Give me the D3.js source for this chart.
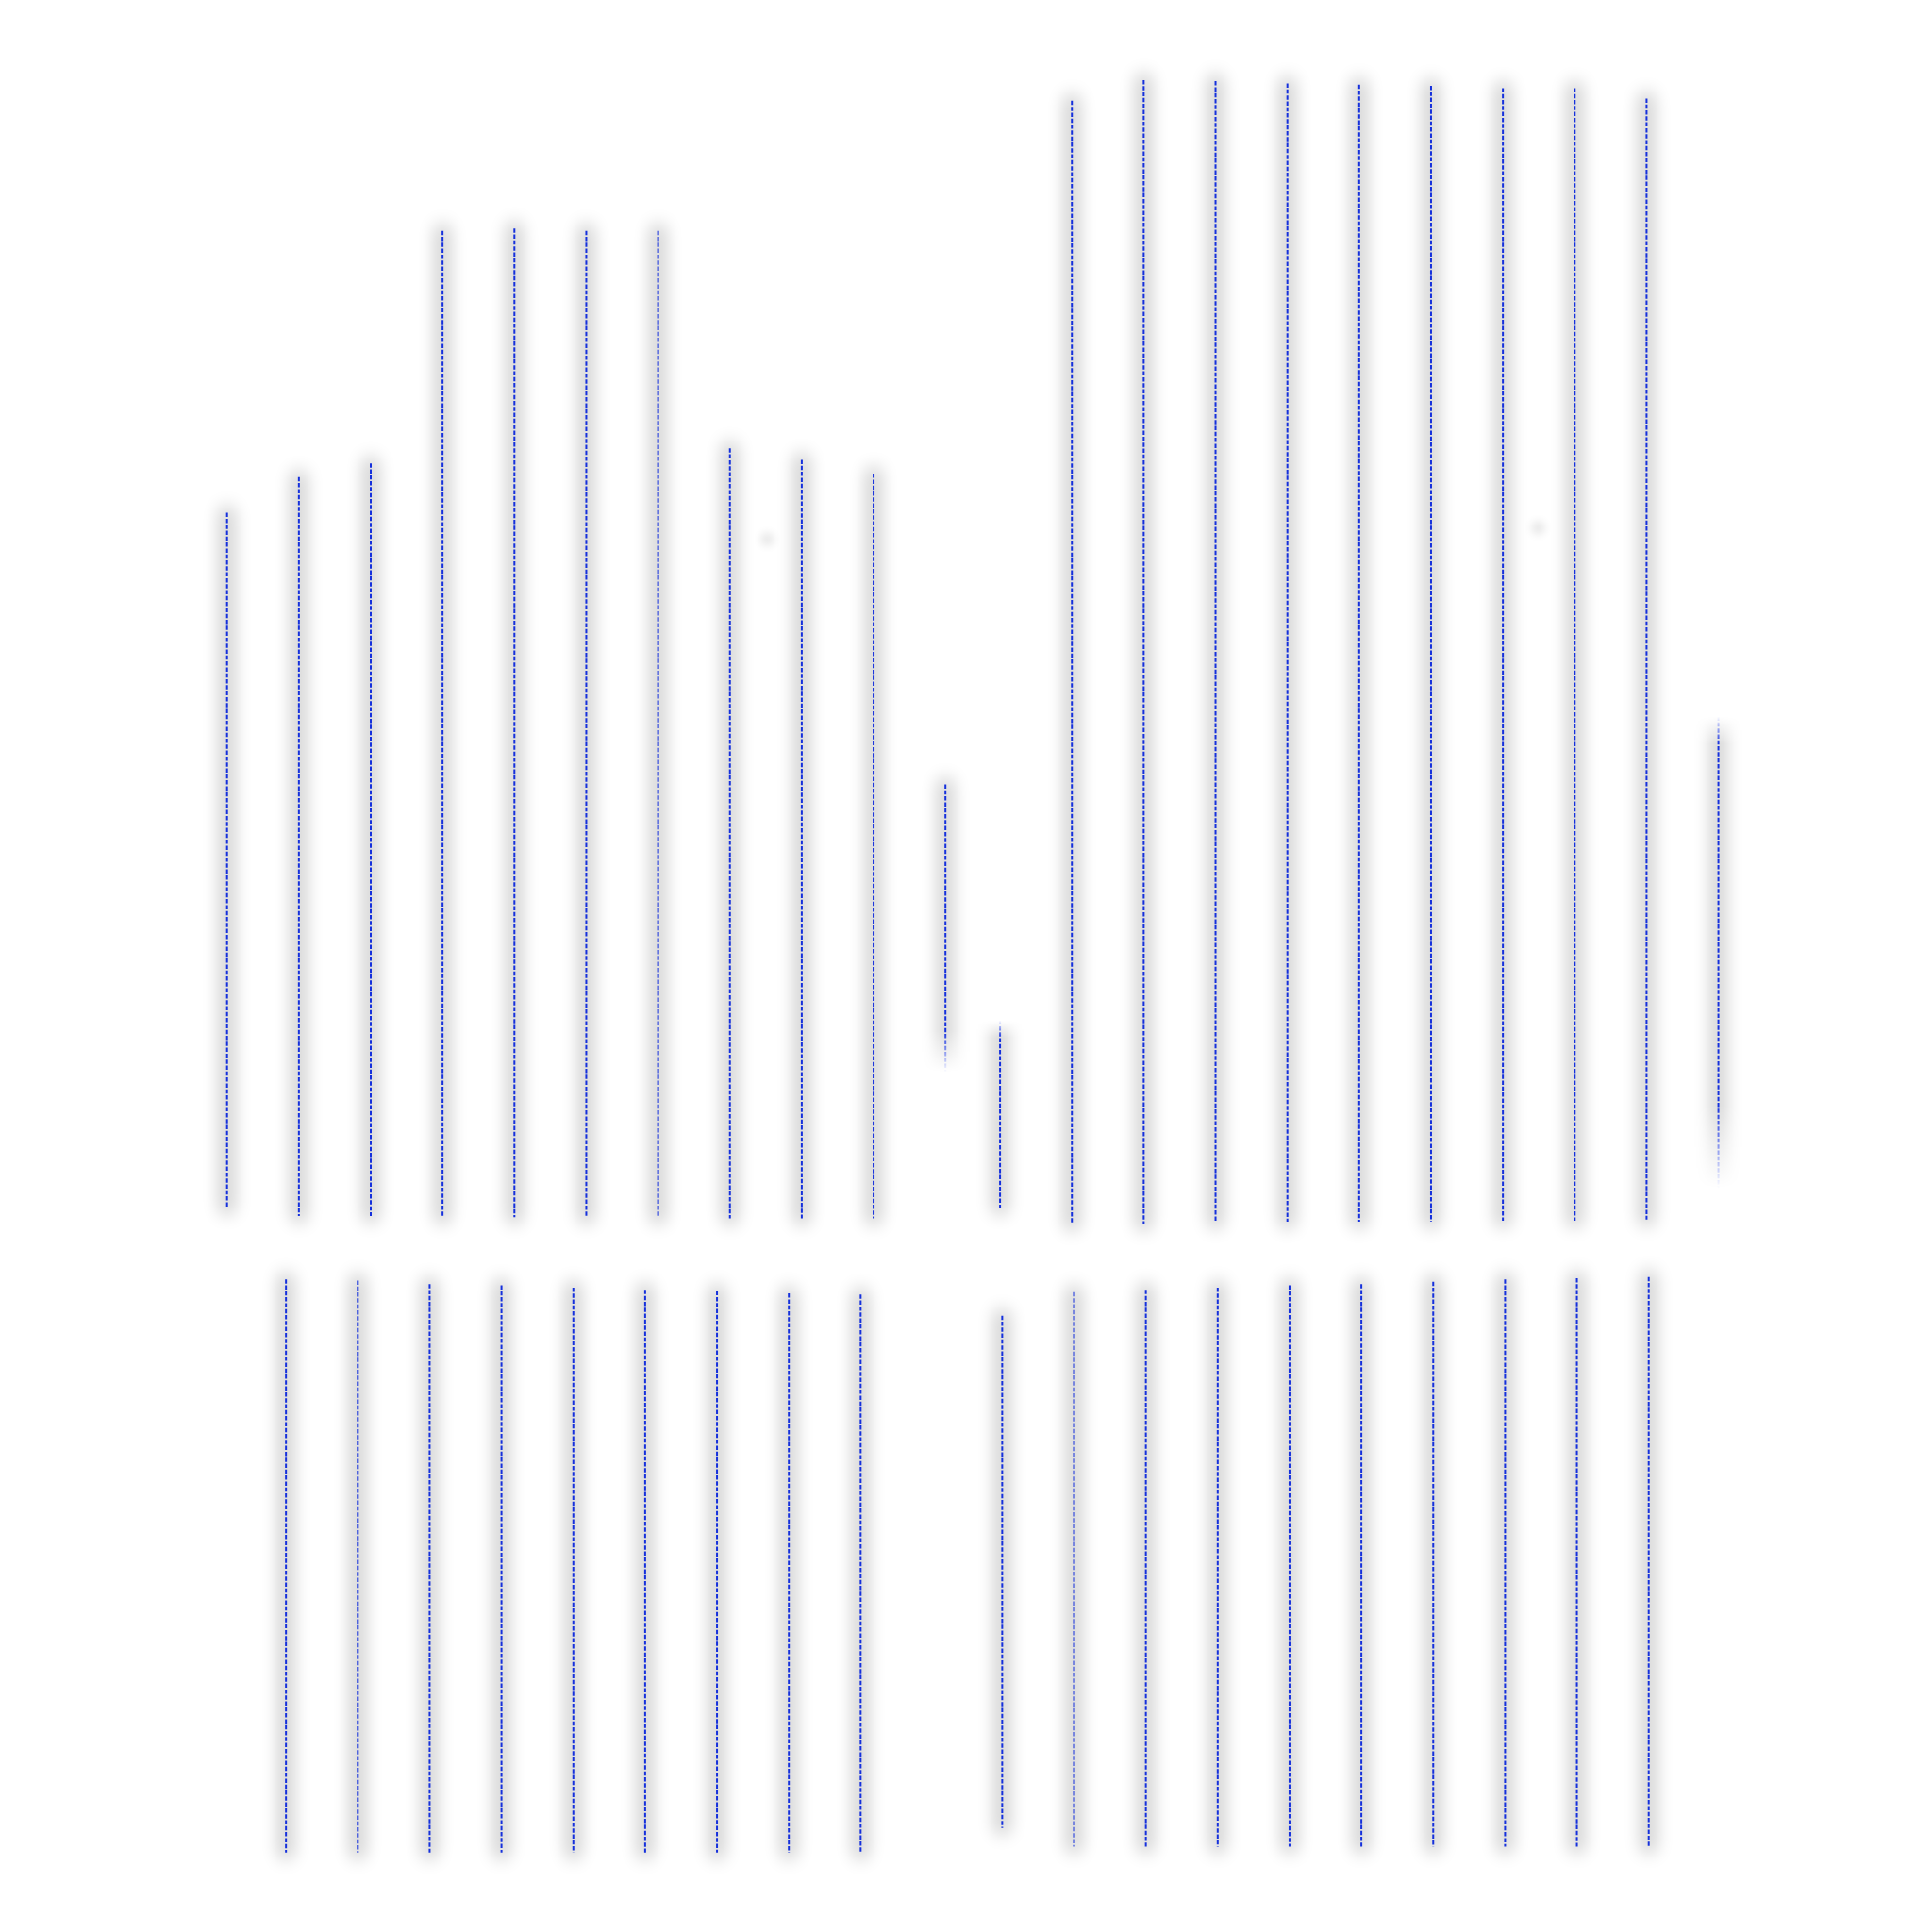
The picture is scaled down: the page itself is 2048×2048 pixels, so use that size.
<!DOCTYPE html>
<html>
<head>
<meta charset="utf-8">
<script src="https://cdn.jsdelivr.net/npm/d3@7"></script>
<style>
  html, body { margin: 0; padding: 0; background: #fff; }
</style>
</head>
<body>
<div id="chart"></div>
<script>
const W = 2048, H = 2048;

// upper row: position (in column steps), top and bottom values, faded ends
const topPos = [0, 1, 2, 3, 4, 5, 6, 7, 8, 9, 10,
    10.76, 11.76, 12.76, 13.76, 14.76, 15.76, 16.76, 17.76, 18.76, 19.76, 20.76];
const topHigh = [62.0, 65.1, 66.3, 86.5, 86.7, 86.5, 86.5, 67.6, 66.6, 65.4, 38.4,
    17.9, 97.8, 99.6, 99.5, 99.3, 99.2, 99.1, 98.9, 98.9, 98.0, 44.3];
const topLow = [1.6, 0.9, 0.9, 0.8, 0.8, 0.8, 0.8, 0.7, 0.7, 0.7, 13.4,
    1.6, 0.2, 0.2, 0.4, 0.4, 0.4, 0.4, 0.5, 0.5, 0.6, 3.3];
const topFadeHigh = [0, 0, 0, 0, 0, 0, 0, 0, 0, 0, 0,
    1.5, 0, 0, 0, 0, 0, 0, 0, 0, 0, 2.4];
const topFadeLow = [0, 0, 0, 0, 0, 0, 0, 0, 0, 0, 3.6,
    0, 0, 0, 0, 0, 0, 0, 0, 0, 0, 7.2];

// lower row
const bottomPos = [0.82, 1.82, 2.82, 3.82, 4.82, 5.82, 6.82, 7.82, 8.82,
    10.79, 11.79, 12.79, 13.79, 14.79, 15.79, 16.79, 17.79, 18.79, 19.79];
const bottomHigh = [49.5, 49.4, 49.1, 49.0, 48.8, 48.6, 48.5, 48.3, 48.2,
    46.4, 48.4, 48.6, 48.8, 49.0, 49.1, 49.3, 49.5, 49.6, 49.7];
const bottomLow = [0.5, 0.5, 0.5, 0.5, 0.5, 0.5, 0.5, 0.5, 0.5,
    2.6, 1.0, 1.0, 1.0, 1.0, 1.0, 1.0, 1.0, 1.0, 1.0];

// faint markers in the upper row
const markPos = [7.52, 18.25];
const markVal = [59.7, 60.7];

const x = d3.scaleLinear().domain([0, 1]).range([240.7, 316.85]);
const yTop = d3.scaleLinear().domain([0, 100]).range([1300, 80]);
const yBottom = d3.scaleLinear().domain([0, 50]).range([1970, 1350]);

const svg = d3.select("#chart")
    .append("svg")
    .attr("width", W)
    .attr("height", H);

const defs = svg.append("defs");

// vertical lines have a zero-width bbox, so the filter region is in user space
defs.append("filter")
    .attr("id", "shadow")
    .attr("filterUnits", "userSpaceOnUse")
    .attr("x", 0).attr("y", 0)
    .attr("width", W).attr("height", H)
    .append("feGaussianBlur").attr("stdDeviation", 9);

defs.append("filter")
    .attr("id", "dotblur")
    .attr("filterUnits", "userSpaceOnUse")
    .attr("x", 0).attr("y", 0)
    .attr("width", W).attr("height", H)
    .append("feGaussianBlur").attr("stdDeviation", 5);

const topRows = topPos.map((p, i) => ({
    pos: p, hi: topHigh[i], lo: topLow[i],
    fh: topFadeHigh[i], fl: topFadeLow[i], y: yTop, id: "t" + i
}));
const bottomRows = bottomPos.map((p, i) => ({
    pos: p, hi: bottomHigh[i], lo: bottomLow[i],
    fh: 0, fl: 0, y: yBottom, id: "b" + i
}));
const all = topRows.concat(bottomRows);

// masks for the lines whose ends fade out
all.filter(d => d.fh > 0 || d.fl > 0).forEach(d => {
    const y1 = d.y(d.hi), y2 = d.y(d.lo);
    const len = y2 - y1;
    const a = (d.y(d.hi - d.fh) - y1) / len;
    const b = 1 - (y2 - d.y(d.lo + d.fl)) / len;
    const g = defs.append("linearGradient")
        .attr("id", "grad-" + d.id)
        .attr("gradientUnits", "userSpaceOnUse")
        .attr("x1", 0).attr("x2", 0)
        .attr("y1", y1).attr("y2", y2);
    g.append("stop").attr("offset", 0).attr("stop-color", "#fff").attr("stop-opacity", d.fh > 0 ? 0 : 1);
    g.append("stop").attr("offset", a).attr("stop-color", "#fff").attr("stop-opacity", 1);
    g.append("stop").attr("offset", b).attr("stop-color", "#fff").attr("stop-opacity", 1);
    g.append("stop").attr("offset", 1).attr("stop-color", "#fff").attr("stop-opacity", d.fl > 0 ? 0 : 1);
    defs.append("mask")
        .attr("id", "mask-" + d.id)
        .attr("maskUnits", "userSpaceOnUse")
        .attr("x", x(d.pos) - 60).attr("y", y1 - 60)
        .attr("width", 120).attr("height", len + 120)
        .append("rect")
        .attr("x", x(d.pos) - 60).attr("y", y1 - 60)
        .attr("width", 120).attr("height", len + 120)
        .attr("fill", "url(#grad-" + d.id + ")");
});

// faint markers
svg.selectAll(".mark")
    .data(markPos)
    .enter().append("circle")
    .attr("class", "mark")
    .attr("cx", d => x(d))
    .attr("cy", (d, i) => yTop(markVal[i]))
    .attr("r", 7)
    .style("fill", "#000")
    .style("opacity", 0.1)
    .attr("filter", "url(#dotblur)");

const stem = svg.selectAll(".stem")
    .data(all)
    .enter().append("g")
    .attr("class", "stem")
    .attr("mask", d => (d.fh > 0 || d.fl > 0) ? "url(#mask-" + d.id + ")" : null);

// soft grey halo
stem.append("line")
    .attr("x1", d => x(d.pos))
    .attr("x2", d => x(d.pos))
    .attr("y1", d => d.y(d.hi))
    .attr("y2", d => d.y(d.lo))
    .style("stroke", "#000")
    .style("stroke-width", 16)
    .style("stroke-linecap", "round")
    .style("opacity", 0.2)
    .attr("filter", "url(#shadow)");

stem.append("line")
    .attr("x1", d => x(d.pos))
    .attr("x2", d => x(d.pos))
    .attr("y1", d => d.y(d.hi))
    .attr("y2", d => d.y(d.lo))
    .style("stroke", "#1530dc")
    .style("stroke-width", 2)
    .style("stroke-dasharray", "4.5,1.8");
</script>
</body>
</html>
